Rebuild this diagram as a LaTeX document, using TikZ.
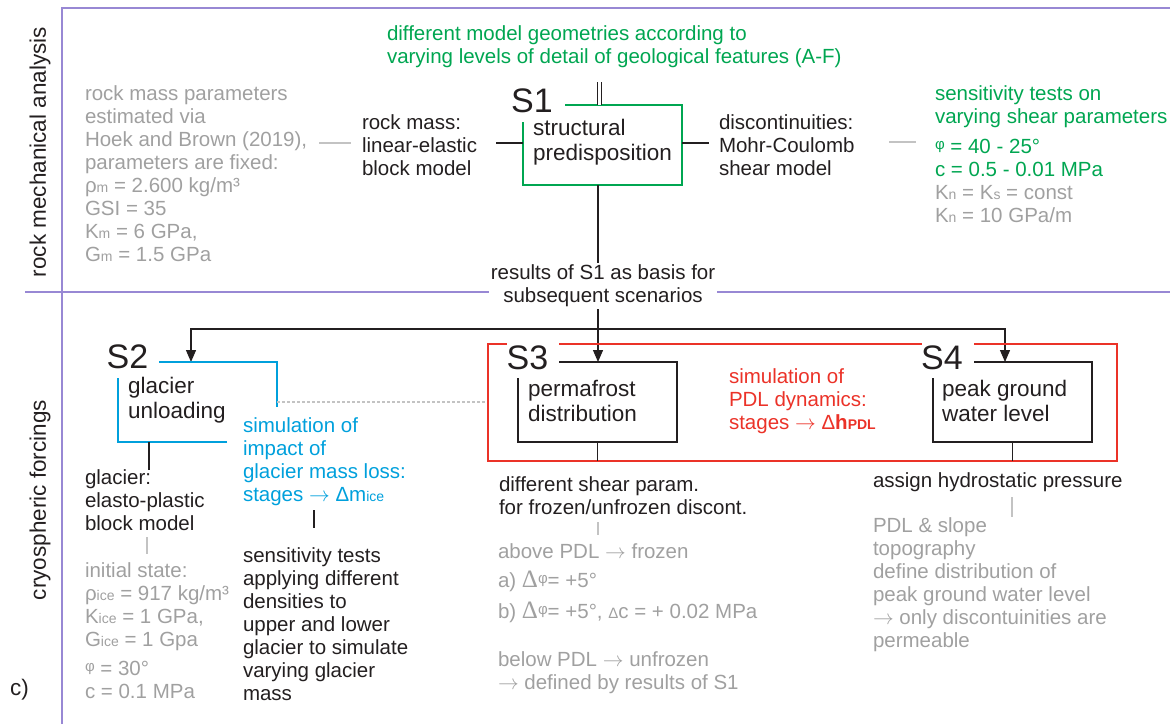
\documentclass[tikz,border=0pt]{standalone}
\usepackage{fontspec}
\setmainfont{Liberation Sans}
\newfontfamily\deltaserif{Liberation Serif}
\usetikzlibrary{arrows.meta,calc}
\definecolor{purp}{RGB}{152,136,212}
\definecolor{grn}{RGB}{0,166,81}
\definecolor{gry}{RGB}{160,160,160}
\definecolor{lgry}{RGB}{195,195,195}
\definecolor{blu}{RGB}{0,160,220}
\definecolor{rd}{RGB}{235,50,40}
\definecolor{blk}{RGB}{35,31,32}
\newcommand{\lsub}[1]{{\fontsize{14}{14}\selectfont #1}}
\newcommand{\phis}{\raisebox{4pt}{\fontsize{15}{15}\selectfont φ}}
\newcommand{\bigdelta}{{\deltaserif\fontsize{25}{25}\selectfont Δ}}
\newcommand{\toarr}{\ensuremath{\rightarrow}}
\begin{document}
\begin{tikzpicture}[x=1pt,y=-1pt,
  txt/.style={inner sep=0pt, outer sep=0pt, align=left, anchor=west, font=\fontsize{20.5}{23}\selectfont, text=blk},
  boxtxt/.style={txt, font=\fontsize{22.5}{25}\selectfont},
  big/.style={inner sep=0pt, outer sep=0pt, font=\fontsize{34}{34}\selectfont, text=blk},
  frame/.style={draw=none, inner sep=0pt, outer sep=0pt},
  conn/.style={draw=blk, line width=1.3pt},
  gconn/.style={draw=lgry, line width=1.1pt},
  arr/.style={conn, -{Triangle[length=12pt,width=10pt]}},
  purpline/.style={draw=purp, line width=1.5pt},
  side/.style={inner sep=0pt, outer sep=0pt, anchor=center, rotate=90, font=\fontsize{22.5}{25}\selectfont, text=blk}
]
\useasboundingbox (0,0) rectangle (1170,724);

% frame lines
\draw[purpline] (62,724) -- (62,8) -- (1170,8);
\draw[purpline] (25,292) -- (1170,292);

% side labels
\node[side] (lab1) at (40,152) {rock mechanical analysis};
\node[side] (lab2) at (40,500) {cryospheric forcings};
\node[txt, font=\fontsize{22.5}{25}\selectfont] (lc) at (10,690) {c)};

% box frames (invisible nodes)
\node[frame, minimum width=159pt, minimum height=80pt] (s1) at (602.5,145) {};
\node[frame, minimum width=159pt, minimum height=80pt] (s2) at (197.5,402) {};
\node[frame, minimum width=629pt, minimum height=117pt] (pdl) at (802.5,402.5) {};
\node[frame, minimum width=159pt, minimum height=80pt] (s3) at (597.5,402) {};
\node[frame, minimum width=159pt, minimum height=80pt] (s4) at (1012.5,402) {};

% S1
\draw[draw=grn, line width=1.3pt] ($(s1.north west)+(42,0)$) -- (s1.north east) -- (s1.south east) -- (s1.south west) -- ($(s1.north west)+(0,17)$);
\node[big] (s1lab) at (532,100.5) {S1};
\node[boxtxt] (s1txt) at (533,142.5) {structural\\predisposition};

% top geometry text
\node[txt, text=grn] (geo) at (387,46.5) {different model geometries according to\\varying levels of detail of geological features (A-F)};
\coordinate (dtop) at (599.5,82);
\draw[draw=blk, line width=1pt, double=white, double distance=2.5pt] (dtop) -- (dtop |- s1.north);

% left / right of S1
\node[txt, text=gry] (lgrey) at (85,174) {rock mass parameters\\estimated via\\Hoek and Brown (2019),\\parameters are fixed:\\ρ\lsub{m} = 2.600 kg/m³\\GSI = 35\\K\lsub{m} = 6 GPa,\\G\lsub{m} = 1.5 GPa};
\node[txt] (rm) at (362,145) {rock mass:\\linear-elastic\\block model};
\node[txt] (disc) at (719,145) {discontinuities:\\Mohr-Coulomb\\shear model};
\node[txt, text=grn] (sens) at (935,154) {sensitivity tests on\\varying shear parameters\\[7pt]\phis\ = 40 - 25°\\c = 0.5 - 0.01 MPa\\\textcolor{gry}{K\lsub{n} = K\lsub{s} = const}\\\textcolor{gry}{K\lsub{n} = 10 GPa/m}};

\coordinate (rmend) at (496,143);
\coordinate (discend) at (709,143);
\draw[conn] (s1.west |- rmend) -- (rmend);
\draw[conn] (s1.east |- discend) -- (discend);
\coordinate (g1a) at (319,143);
\coordinate (g1b) at (351,143);
\draw[gconn] (g1a) -- (g1b);
\coordinate (g2a) at (889,142);
\coordinate (g2b) at (916,142);
\draw[gconn] (g2a) -- (g2b);

% results
\node[txt, anchor=center, align=center, fill=white, inner sep=2pt] (res) at (603,286) {results of S1 as basis for\\subsequent scenarios};
\coordinate (trunk) at (598,329);
\draw[conn] (s1.south -| trunk) -- (res.north -| trunk);
\draw[arr] (res.south -| trunk) -- (s3.north -| trunk);
\draw[arr] (trunk) -| ($(s2.north west)+(73,0)$);
\draw[arr] (trunk) -| ($(s4.north west)+(72,0)$);

% S2
\draw[draw=blu, line width=1.3pt] ($(s2.north west)+(41,0)$) -- (s2.north east) -- ($(s2.north east)+(0,45)$);
\draw[draw=blu, line width=1.3pt] ($(s2.south west)+(109,0)$) -- (s2.south west) -- ($(s2.north west)+(0,16)$);
\node[big] (s2lab) at (127.5,357) {S2};
\node[boxtxt] (s2txt) at (128,400.5) {glacier\\unloading};
\node[txt, text=blu] (gsim) at (243,462) {simulation of\\impact of\\glacier mass loss:\\stages \toarr\ Δm\lsub{ice}};
\draw[draw=lgry, line width=1.1pt, dash pattern=on 2.5pt off 2.5pt] ($(s2.north east)+(0,40)$) -- ($(pdl.north west)+(0,58)$);

\node[txt] (gmod) at (85,500.5) {glacier:\\elasto-plastic\\block model};
\draw[conn] (s2.south -| 149,0) -- (gmod.north -| 149,0);
\coordinate (g4a) at (147,537);
\coordinate (g4b) at (147,554);
\draw[gconn] (g4a) -- (g4b);
\node[txt, text=gry] (init) at (85,630.5) {initial state:\\ρ\lsub{ice} = 917 kg/m³\\K\lsub{ice} = 1 GPa,\\G\lsub{ice} = 1 Gpa\\[6pt]\phis\ = 30°\\c = 0.1 MPa};
\coordinate (b5a) at (314,510);
\coordinate (b5b) at (314,528);
\draw[conn] (b5a) -- (b5b);
\node[txt] (stest) at (243,624) {sensitivity tests\\applying different\\densities to\\upper and lower\\glacier to simulate\\varying glacier\\mass};

% PDL red frame
\draw[draw=rd, line width=1.3pt] ($(pdl.north west)+(71,0)$) -- ($(pdl.north west)+(434,0)$);
\draw[draw=rd, line width=1.3pt] ($(pdl.north west)+(486,0)$) -- (pdl.north east) -- (pdl.south east) -- (pdl.south west) -- (pdl.north west) -- ($(pdl.north west)+(19,0)$);

% S3
\draw[draw=blk, line width=1.3pt] ($(s3.north west)+(41,0)$) -- (s3.north east) -- (s3.south east) -- (s3.south west) -- ($(s3.north west)+(0,16)$);
\node[big] (s3lab) at (527.5,358) {S3};
\node[boxtxt] (s3txt) at (528,401) {permafrost\\distribution};
\node[txt, text=rd] (rsim) at (729,401.5) {simulation of\\PDL dynamics:\\stages \toarr\ Δ\textbf{h\lsub{PDL}}};
\draw[conn] (s3.south) -- (s3.south |- pdl.south);

% S4
\draw[draw=blk, line width=1.3pt] ($(s4.north west)+(41,0)$) -- (s4.north east) -- (s4.south east) -- (s4.south west) -- ($(s4.north west)+(0,16)$);
\node[big] (s4lab) at (942,358) {S4};
\node[boxtxt] (s4txt) at (942,400.5) {peak ground\\water level};
\draw[conn] (s4.south) -- (s4.south |- pdl.south);

% below S3
\node[txt] (shear) at (499,495.5) {different shear param.\\for frozen/unfrozen discont.};
\coordinate (g3a) at (598,522);
\coordinate (g3b) at (598,535);
\draw[gconn] (g3a) -- (g3b);
\node[txt, text=gry] (above) at (498,583) {above PDL \toarr\ frozen\\[6pt]a) \bigdelta\phis= +5°\\[8pt]b) \bigdelta\phis= +5°, {\fontsize{15}{15}\selectfont Δ}c = + 0.02 MPa};
\node[txt, text=gry] (below) at (498,673) {below PDL \toarr\ unfrozen\\\toarr\ defined by results of S1};

% below S4
\node[txt] (hydro) at (873,482) {assign hydrostatic pressure};
\coordinate (g6a) at (1012,497);
\coordinate (g6b) at (1012,517);
\draw[gconn] (g6a) -- (g6b);
\node[txt, text=gry] (pdltxt) at (873,585) {PDL \& slope\\topography\\define distribution of\\peak ground water level\\\toarr\ only discontuinities are\\permeable};
\end{tikzpicture}
\end{document}
